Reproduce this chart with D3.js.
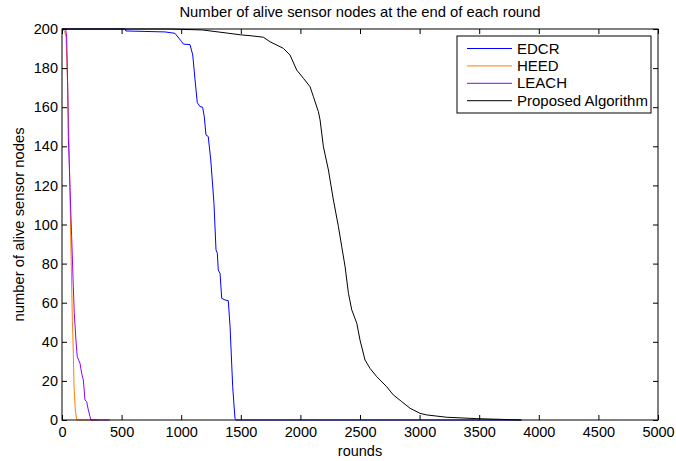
<!DOCTYPE html>
<html>
<head>
<meta charset="utf-8">
<script src="https://cdn.jsdelivr.net/npm/d3@7"></script>
<style>
  body { margin: 0; background: #fff; }
  text { font-family: "Liberation Sans", Arial, sans-serif; fill: #000; }
</style>
</head>
<body>
<div id="chart"></div>
<script>
// series data: [round, alive nodes]
var edcr = [[0,200],[530,200],[535,199],[864,198.5],[948,197.8],[1004,193.5],[1018,192.3],[1074,192],
  [1097,186.7],[1116,174],[1135,162.3],[1158,160.3],[1180,160],[1194,155],[1208,145.8],[1227,145],
  [1248,133],[1275,110.8],[1292,87],[1303,85.3],[1311,76.7],[1326,75],[1340,62.2],[1368,61.4],
  [1395,61],[1410,47.7],[1432,17],[1451,0.9],[1460,0],[3850,0]];
var heed = [[0,200],[20,199],[34,196],[48,170],[61,136],[76,85],[87,51],[95,34],[101,17],[112,5],[123,0.4],[127,0],[300,0]];
var leach = [[0,200],[30,200],[39,196],[48,170],[53,145],[67,119],[81,93.8],[95,68.2],[103,54.6],[117,40.9],
  [128,32.4],[151,29],[165,23.9],[179,20.5],[193,10.2],[207,9.4],[221,5.1],[235,1.7],[243,0],[400,0]];
var proposed = [[0,200],[900,200],[1180,199.5],[1400,197.8],[1500,197],[1577,196.6],[1689,195.8],
  [1745,193.5],[1857,190.1],[1913,186.7],[1969,179],[2025,174.8],[2081,170.5],[2109,165.4],[2151,157.7],
  [2165,153.5],[2193,139.8],[2235,127.9],[2277,112.5],[2319,98.9],[2347,88.6],[2375,78.4],[2403,64.8],
  [2431,56.3],[2473,49.5],[2500,40.9],[2542,30.7],[2584,26.4],[2640,22.2],[2724,17],[2780,12.8],
  [2850,9.4],[2920,6],[3003,3.4],[3059,2.6],[3227,1.4],[3479,0.7],[3700,0.3],[3856,0]];

var seriesNames = ["EDCR", "HEED", "LEACH", "Proposed Algorithm"];
var seriesColors = ["#0000ff", "#ff8000", "#8f00ff", "#000000"];
var seriesData = [edcr, heed, leach, proposed];

var xTicks = d3.range(0, 5001, 500);
var yTicks = d3.range(0, 201, 20);

var margin = {top: 29, right: 18, bottom: 41, left: 62},
    W = 676, H = 461,
    width = W - margin.left - margin.right,
    height = H - margin.top - margin.bottom;

var svg = d3.select("#chart").append("svg")
    .attr("width", W)
    .attr("height", H);

var g = svg.append("g")
    .attr("transform", "translate(" + margin.left + "," + margin.top + ")");

var x = d3.scaleLinear().domain([0, 5000]).range([0, width]);
var y = d3.scaleLinear().domain([0, 200]).range([height, 0]);

// lines
var line = d3.line()
    .x(function(d) { return x(d[0]); })
    .y(function(d) { return y(d[1]); });

seriesData.forEach(function(s, i) {
  g.append("path")
    .datum(s)
    .attr("fill", "none")
    .attr("stroke", seriesColors[i])
    .attr("stroke-width", 1)
    .attr("d", line);
});

// axes, ticks pointing inward like matlab
var fmt = d3.format("d");
g.append("g").attr("transform", "translate(0," + height + ")")
  .call(d3.axisBottom(x).tickValues(xTicks).tickFormat(fmt).tickSizeInner(-5).tickSizeOuter(0).tickPadding(7));
g.append("g")
  .call(d3.axisTop(x).tickValues(xTicks).tickFormat("").tickSizeInner(-5).tickSizeOuter(0));
g.append("g")
  .call(d3.axisLeft(y).tickValues(yTicks).tickFormat(fmt).tickSizeInner(-5).tickSizeOuter(0).tickPadding(4));
g.append("g").attr("transform", "translate(" + width + ",0)")
  .call(d3.axisRight(y).tickValues(yTicks).tickFormat("").tickSizeInner(-5).tickSizeOuter(0));

g.selectAll(".domain").remove();
g.selectAll(".tick line").attr("stroke", "#000");
g.selectAll(".tick text").style("font-size", "14.5px").attr("fill", "#000");

g.append("rect")
  .attr("width", width).attr("height", height)
  .attr("fill", "none").attr("stroke", "#000").attr("stroke-width", 1);

// title and labels
svg.append("text")
  .attr("x", margin.left + width / 2).attr("y", 17)
  .attr("text-anchor", "middle").style("font-size", "14.8px")
  .text("Number of alive sensor nodes at the end of each round");

svg.append("text")
  .attr("x", margin.left + width / 2).attr("y", 456)
  .attr("text-anchor", "middle").style("font-size", "14.5px")
  .text("rounds");

svg.append("text")
  .attr("transform", "translate(24," + (margin.top + height / 2) + ") rotate(-90)")
  .attr("text-anchor", "middle").style("font-size", "14.8px")
  .text("number of alive sensor nodes");

// legend
var lg = svg.append("g").attr("transform", "translate(457,36)");
lg.append("rect")
  .attr("width", 194).attr("height", 77)
  .attr("fill", "#fff").attr("stroke", "#000").attr("stroke-width", 1);
seriesNames.forEach(function(n, i) {
  var yy = 12.5 + i * 17.4;
  lg.append("line")
    .attr("x1", 10).attr("x2", 55).attr("y1", yy).attr("y2", yy)
    .attr("stroke", seriesColors[i]).attr("stroke-width", 1);
  lg.append("text")
    .attr("x", 60).attr("y", yy + 5)
    .style("font-size", "15px")
    .text(n);
});
</script>
</body>
</html>
